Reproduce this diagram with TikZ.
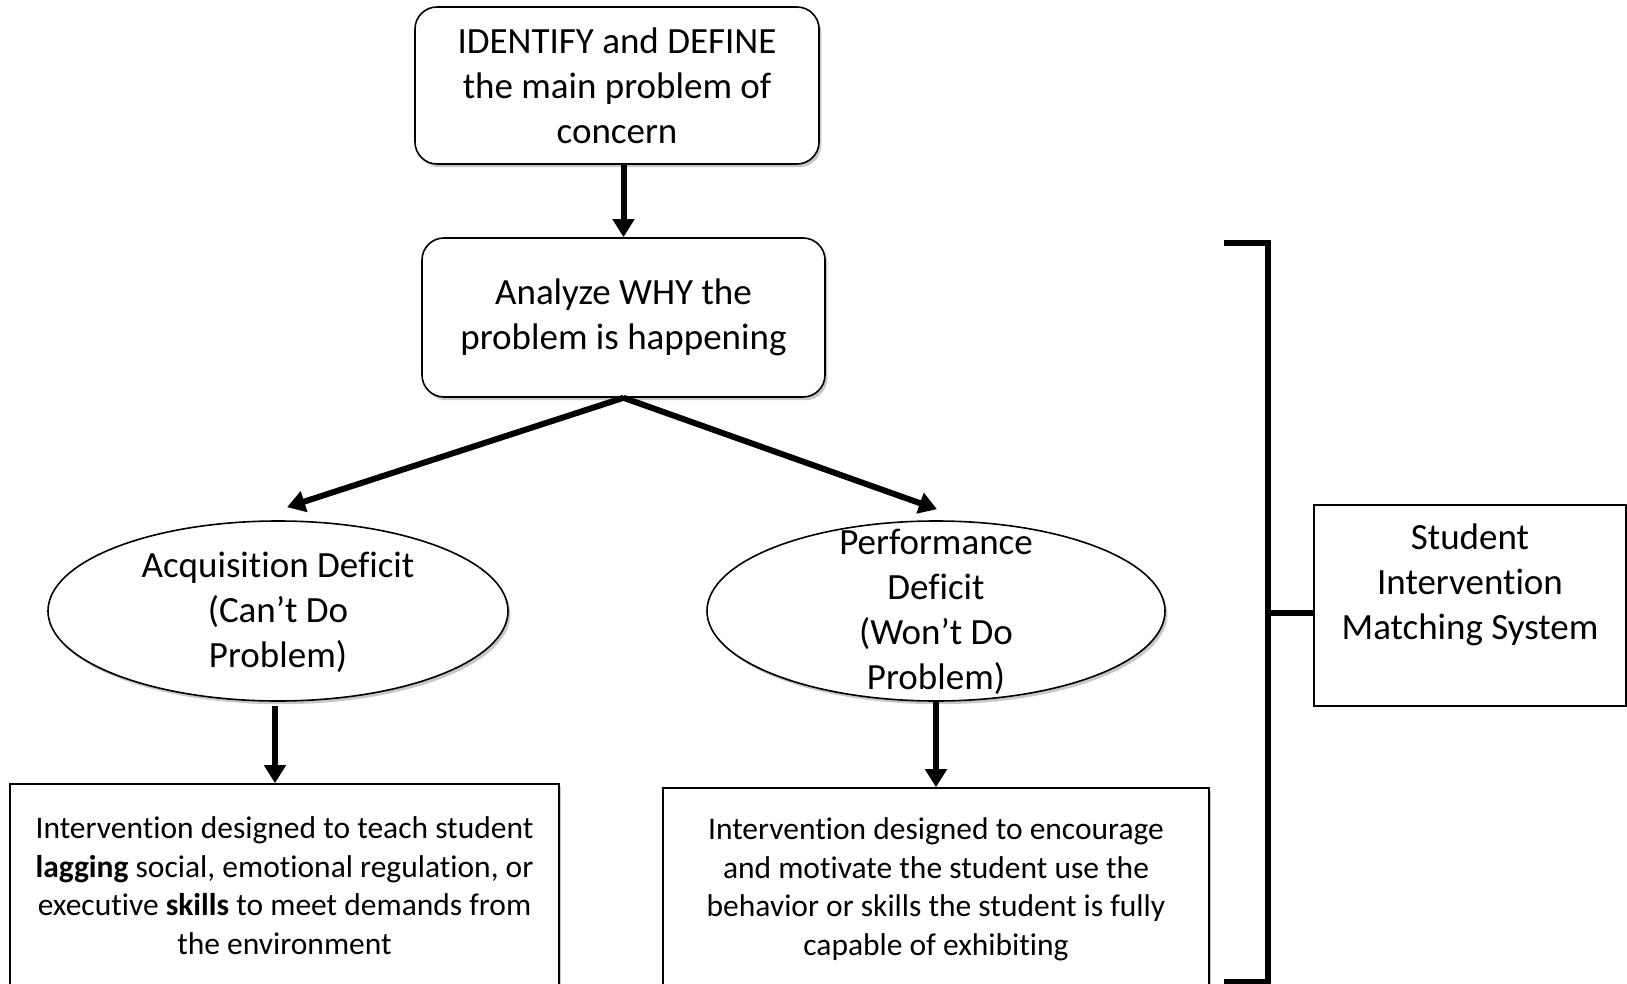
\documentclass[tikz,border=0pt]{standalone}
\usepackage{fontspec}
\setmainfont{Carlito}[Ligatures=NoCommon,RawFeature={-liga;-clig}]
\usetikzlibrary{arrows.meta,shapes.geometric,calc,shadows}
\begin{document}
\begin{tikzpicture}[x=0.5pt,y=-0.5pt,
  thinline/.style={draw=black,line width=0.8pt},
  shad/.style={drop shadow={shadow xshift=1.2pt,shadow yshift=-1.6pt,opacity=0.22,fill=black}},
  bigfont/.style={font=\fontsize{18.5pt}{22.5pt}\selectfont},
  smallfont/.style={font=\fontsize{15.75pt}{19.25pt}\selectfont},
  rbox/.style={thinline,rounded corners=11pt,fill=white,shad,align=center,bigfont,inner sep=0pt},
  ellbox/.style={thinline,ellipse,fill=white,shad,inner sep=0pt,minimum height=90pt},
  sqbox/.style={thinline,rectangle,fill=white,shad,align=center,smallfont,inner sep=0pt,minimum height=101.5pt},
  sysbox/.style={thinline,rectangle,fill=white,inner sep=0pt,minimum width=156pt,minimum height=100.5pt},
  lbl/.style={align=center,bigfont,inner sep=0pt},
  arr/.style={line width=3pt,-{Triangle[width=10.5pt,length=9pt]}},
  brk/.style={line width=2.6pt}
]
\useasboundingbox (0,0) rectangle (1627,984);
\fill[white] (0,0) rectangle (1627,984);

% top boxes
\node[rbox,minimum width=202pt,minimum height=78.5pt] (b1) at (617,85.5)
  {IDENTIFY and DEFINE\\the main problem of\\concern};
\node[rbox,minimum width=201.5pt,minimum height=79.5pt] (b2) at (623.5,317.5)
  {Analyze WHY the\\problem is happening};

% ellipses
\node[ellbox,minimum width=230pt] (acq) at (278,611) {};
\node[lbl] (acqt) at (278,612) {Acquisition Deficit\\(Can’t Do\\Problem)};
\node[ellbox,minimum width=229pt] (perf) at (936,611) {};
\node[lbl] (perft) at (936,612) {Performance\\Deficit\\(Won’t Do\\Problem)};

% bottom boxes
\node[sqbox,minimum width=274.5pt] (boxL) at (284.5,885.5)
  {Intervention designed to teach student\\\textbf{lagging} social, emotional regulation, or\\executive \textbf{skills} to meet demands from\\the environment};
\node[sqbox,minimum width=273pt] (boxR) at (936,889.5)
  {Intervention designed to encourage\\and motivate the student use the\\behavior or skills the student is fully\\capable of exhibiting};

% system box
\node[sysbox] (sys) at (1470,605.5) {};
\node[lbl] (syst) at (1470,585) {Student\\Intervention\\Matching System};

% arrows
\draw[arr] (b2.north |- b1.south) -- (b2.north);
\draw[arr] (b2.south) -- ($(acq.north)+(9,-13)$);
\draw[arr] (b2.south) -- ($(perf.north)+(1,-11)$);
\draw[arr] ($(acq.south)+(-3,4)$) -- ($(acq.south |- boxL.north)+(-3,0)$);
\draw[arr] (perf.south) -- (perf.south |- boxR.north);

% bracket
\coordinate (brTL) at (1224,243);
\coordinate (brTR) at (1268,243);
\coordinate (brBR) at (1268,982);
\coordinate (brBL) at (1224,982);
\coordinate (brM) at (1268,613);
\draw[brk] (brTL) -- (brTR) -- (brBR) -- (brBL);
\draw[brk] (brM) -- (brM -| sys.west);
\end{tikzpicture}
\end{document}
